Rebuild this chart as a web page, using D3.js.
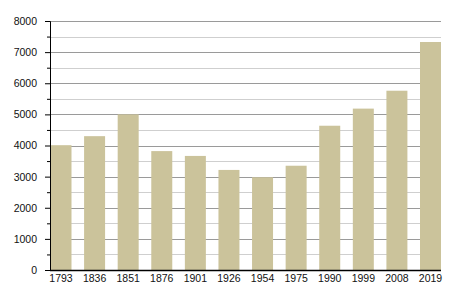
<!DOCTYPE html>
<html>
<head>
<meta charset="utf-8">
<script src="https://cdn.jsdelivr.net/npm/d3@7"></script>
<style>
  body { margin: 0; background: #fff; }
  text { font-family: "Liberation Sans", Arial, sans-serif; font-size: 10.5px; fill: #111; }
</style>
</head>
<body>
<svg class="chart"></svg>
<script>
let width = 450, height = 300;
let margin = { top: 21, right: 9, bottom: 30, left: 50 };
let w = width - margin.left - margin.right;
let h = height - margin.top - margin.bottom;

// population by census year
let years = ["1793", "1836", "1851", "1876", "1901", "1926", "1954", "1975", "1990", "1999", "2008", "2019"];
let population = [4010, 4300, 5000, 3820, 3665, 3215, 2980, 3350, 4635, 5185, 5760, 7325];
let majorTicks = [0, 1000, 2000, 3000, 4000, 5000, 6000, 7000, 8000];
let minorTicks = [500, 1500, 2500, 3500, 4500, 5500, 6500, 7500];

let chart = d3.select(".chart")
  .attr("width", width)
  .attr("height", height)
  .append("g")
  .attr("transform", "translate(" + margin.left + "," + margin.top + ")");

let x = d3.scaleBand()
  .domain(years)
  .range([0.5, w])
  .paddingInner(0.375)
  .paddingOuter(0);

let y = d3.scaleLinear()
  .domain([0, 8000])
  .range([h, 0]);

// gridlines (minor lighter, major darker)
chart.selectAll(".minor")
  .data(minorTicks)
  .enter().append("line")
  .attr("x1", 0).attr("x2", w)
  .attr("y1", d => Math.round(y(d)) + 0.5)
  .attr("y2", d => Math.round(y(d)) + 0.5)
  .style("stroke", "#cfcfcf");

chart.selectAll(".major")
  .data(majorTicks.filter(d => d > 0))
  .enter().append("line")
  .attr("x1", 0).attr("x2", w)
  .attr("y1", d => Math.round(y(d)) + 0.5)
  .attr("y2", d => Math.round(y(d)) + 0.5)
  .style("stroke", "#9a9a9a");

// bars
chart.selectAll("rect")
  .data(population)
  .enter().append("rect")
  .attr("x", (d, i) => x(years[i]))
  .attr("y", d => y(d))
  .attr("width", x.bandwidth())
  .attr("height", d => h - y(d))
  .style("fill", "#cbc39b");

// y axis
let yAxis = chart.append("g")
  .call(d3.axisLeft(y).tickValues(majorTicks).tickFormat(d3.format("d")).tickSize(5).tickPadding(8));
yAxis.select(".domain").style("stroke", "#000");
yAxis.selectAll("text").style("font-size", "10.5px");

chart.append("g")
  .call(d3.axisLeft(y).tickValues(minorTicks).tickSize(3).tickFormat(""))
  .select(".domain").remove();

// x axis
let xAxis = chart.append("g")
  .attr("transform", "translate(0," + h + ")")
  .call(d3.axisBottom(x).tickSize(0).tickPadding(5));
xAxis.select(".domain").attr("d", "M0,0.5H" + w).style("stroke", "#000").style("stroke-width", 1.5);
xAxis.selectAll("text").style("font-size", "10.5px");
</script>
</body>
</html>
